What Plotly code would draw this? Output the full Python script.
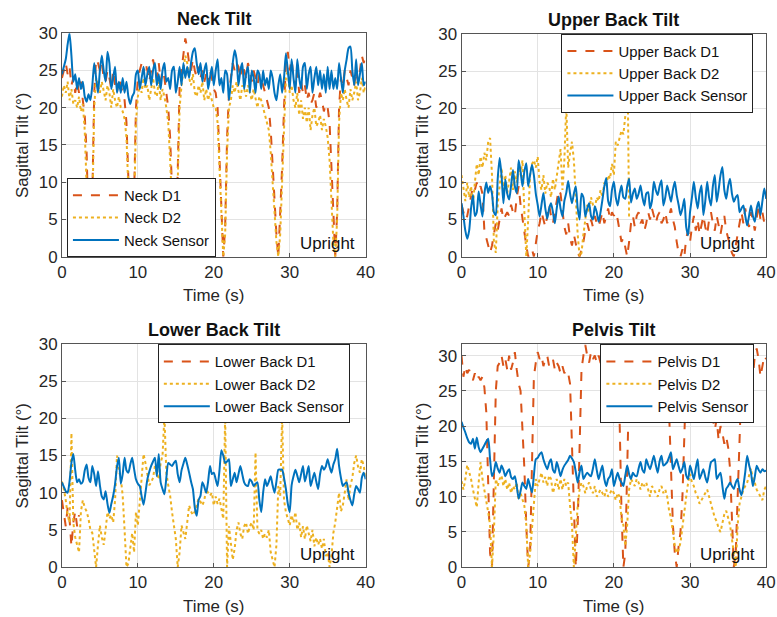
import plotly.graph_objects as go

DT = 0.25

# ---------------- Neck ----------------
NECK_D1 = [24, 25, 26, 24.5, 25.5, 23, 24, 22, 23.5,
           22, 23.5, 21, 19, 14, 4, 0, 8,
           22, 26.5, 26, 25, 26, 24, 23.5, 25,
           24, 22.5, 25, 23, 22, 24, 23, 22,
           21, 18, 10, 3, 0, 8, 20, 24,
           25, 26, 24.5, 26, 25, 23.5, 25, 26.5,
           25, 24, 26, 23.5, 25, 24, 22, 20,
           16, 8, 2, 0, 12, 23, 25, 27,
           29.3, 28, 26, 25, 26.5, 25, 24, 25.5,
           24, 25, 23.5, 24.5, 23, 25, 24, 22.5,
           22, 20, 14, 6, 0, 4, 16, 22,
           24, 26, 25, 26, 25.5, 24, 26, 25,
           24, 26, 25, 23.5, 25, 24, 23, 24.5,
           24, 23, 22, 21, 20, 17, 12, 7,
           3, 0, 5, 12, 20, 26, 27.5, 25,
           26.5, 24, 23, 25, 22, 23.5, 22, 23,
           21, 22, 20.5, 21, 22, 20, 21, 22,
           21, 19.5, 20.5, 20, 18, 12, 5, 0,
           6, 20, 24, 23, 25, 24, 23, 25,
           24, 23, 25, 23.5, 25, 27, 26, 27]
NECK_D2 = [21.5, 23, 22, 23.5, 21, 22.5, 20.5, 21, 20,
           21.5, 19.5, 20.5, 17, 10, 2, 0, 6,
           20, 24, 23, 22, 23.5, 22, 21, 23,
           22, 20, 22.5, 21, 20, 21.5, 20, 19.5,
           18.5, 16, 8, 2, 0, 6, 18, 21.5,
           23, 22, 24, 22.5, 23, 21, 22.5, 24,
           22, 21.5, 23.5, 21, 22.5, 21.5, 20, 18,
           13, 6, 1, 0, 10, 20, 23, 25,
           27, 26, 24, 23, 24.5, 22, 21.5, 23,
           22, 23.5, 21, 22.5, 21, 22, 21, 20,
           20, 18, 12, 5, 0, 3, 14, 20,
           21, 23, 22, 23.5, 22, 21, 23, 22.5,
           21.5, 23, 22, 21, 22.5, 21, 20, 21.5,
           21, 20, 19, 18, 17, 14, 10, 5,
           2, 0, 3, 10, 18, 24, 25, 22,
           23, 21, 20, 22, 19, 21, 18.5, 20,
           18, 20, 17, 19, 20, 17.5, 18, 19,
           17, 18.5, 17.5, 16, 13, 8, 2, 0,
           5, 18, 22, 21, 22.5, 21, 20, 22.5,
           21, 22, 23.5, 21, 22, 24, 22, 23]
NECK_SENSOR = [24.5, 25.5, 26.5, 28.5, 30, 27, 23.5, 24.5, 22.5,
               24, 22.5, 23.5, 21.5, 20.8, 21.8, 21, 23,
               26, 24, 22, 25, 27, 25, 23.5, 27.5,
               26, 22.5, 24, 25.5, 22, 23.5, 22, 24,
               22, 23.5, 21.5, 20.5, 21.5, 22, 24.5, 25,
               22.5, 24, 25.5, 23, 24.5, 25.5, 23, 25,
               26, 23, 24.5, 22.5, 25, 26, 23.5, 24,
               22.5, 25, 25.5, 22, 23.5, 25.5, 23, 26,
               24, 25.5, 24, 26, 27.5, 28, 26, 24.5,
               26, 23.5, 25, 26, 22.5, 24, 25.5, 23,
               25, 26.5, 23, 24, 22, 25, 24.5, 21,
               23.5, 26, 27.7, 26.5, 23, 25, 26, 22.5,
               24.5, 25.5, 22, 25, 24, 22, 25, 24.5,
               22.5, 25, 23, 24, 22.5, 25, 24, 22,
               21, 23, 24.5, 22, 24, 27.3, 25, 22.5,
               26.5, 24, 22, 26.5, 24, 22.5, 25.5, 26,
               22.5, 24.5, 25.5, 22, 24, 25.5, 23, 25,
               22.5, 24.5, 22, 25.5, 22.5, 25, 22.5, 24,
               22.5, 26, 24, 22, 25, 26.5, 28, 28.2,
               25, 23, 26.5, 23, 24.5, 26, 23, 23.5]

# ---------------- Upper back ----------------
UPPER_D1 = [7, 6, 5, 5.5, 7, 8.5, 9.5, 9, 10,
            9, 9.5, 8.5, 3.5, 2.5, 1.5, 0.5, 1.5,
            3, 4.5, 3.5, 5, 6.5, 5, 5.5, 6,
            5.5, 7, 6, 5.5, 8, 9.5, 7, 5,
            3, 1.5, 0, 0.5, 1, 0, 2, 3.5,
            4.5, 6, 5, 4, 5.5, 7, 5.5, 4.5,
            6, 7.5, 9, 8.5, 6, 4, 3, 4.5,
            2.5, 1.5, 3, 1.5, 0.5, 0, 1, 2,
            3.5, 4.5, 3.5, 5, 4, 5.5, 4.5, 4,
            5, 6, 4.5, 5.5, 6.5, 5, 6, 5.5,
            6, 5, 3.5, 2, 2.5, 1, 0, 2,
            4.5, 5.5, 4, 5.5, 6, 4.5, 5, 3.5,
            4.5, 6, 5, 6.5, 5.5, 4.5, 5.5, 6,
            4.5, 5, 6, 4.5, 5.5, 6.5, 5, 4,
            2, 0.5, 0, 1, 0, 2.5, 3.5, 2,
            4, 5.5, 3.5, 5, 3, 4.5, 5.5, 4,
            3, 5, 6, 4.5, 3.5, 5.5, 4, 3,
            4.5, 5.5, 3.5, 2.5, 1.5, 0.5, 0, 1.5,
            3, 5, 6, 4.5, 6.5, 5, 4, 6,
            5, 3.5, 5.5, 7, 5, 6, 4.5, 4]
UPPER_D2 = [11, 9, 7.5, 10, 8, 9.5, 7, 10, 12.5,
            11, 13.5, 12, 14, 13, 15.5, 16, 11,
            2, 0.5, 7, 10, 12, 9, 11, 8.5,
            10, 12, 9, 11.5, 10, 12.5, 11, 13,
            6, 0, 5, 11, 12.5, 13, 12, 13.5,
            10, 9, 11, 8.5, 10, 9.5, 8, 10.5,
            9, 11, 12.5, 14.5, 9, 13, 20.5, 12,
            14, 15.5, 13, 8, 3, 0, 0.5, 3,
            5, 7, 6, 8, 7, 6.5, 8, 7.5,
            9, 8, 10, 9.5, 11, 10.5, 12.5, 11,
            15.5, 15, 16, 17, 16.5, 19, 30, 5]
UPPER_SENSOR = [7.2, 5.5, 3.5, 2.4, 3.5, 6.5, 8.3, 5.5, 6,
                8.8, 7, 5.4, 8.5, 10, 8.6, 9.5, 8.5,
                6, 5.6, 10.5, 13.3, 11, 7.2, 10.4, 8.5,
                7.7, 9.5, 11.7, 9.5, 8.6, 13, 11.5, 9.5,
                11.5, 12.6, 9.5, 11, 12.4, 11, 8.5, 7,
                5.4, 7, 8.6, 6.5, 5.1, 6.5, 7.2, 6,
                4.5, 6.5, 8.1, 6.5, 5.4, 7.5, 8.6, 10.2,
                8.5, 7.2, 8.5, 9.5, 6.5, 5, 8.5, 8,
                5.4, 6.5, 7.2, 5.5, 5, 6.8, 6, 4.7,
                6, 7.7, 9.5, 10.6, 7.5, 6.8, 9, 10.1,
                8, 6.9, 8.5, 9.6, 8, 7.8, 9.5, 10.5,
                7.3, 8.5, 9.2, 7.8, 8.5, 9.6, 8, 6.9,
                8.5, 8.7, 6.5, 7.5, 10.1, 9, 8.3, 9.5,
                10.3, 6.9, 8, 9.6, 8.5, 7.4, 9, 10.1,
                8.3, 7, 5.6, 6.5, 7.8, 4, 2.9, 6,
                8, 10.1, 8, 6.5, 8.5, 9.6, 5.6, 7.5,
                10.1, 8, 6.9, 9.5, 11, 7.4, 9, 11,
                12.1, 9, 7.8, 9.5, 10.5, 8.5, 7.4, 8,
                8.3, 6, 6.5, 6.9, 5.5, 4.2, 5.5, 6.9,
                5.5, 4.7, 6.5, 7.4, 5.6, 7.5, 9.2, 7.8]

# ---------------- Lower back ----------------
LOWER_D1 = [9, 7, 5.5, 8, 6.5, 2.8, 6, 7.5, 5.5, 7]
LOWER_D2 = [11.5, 10.5, 9, 7, 6, 18, 6, 4, 3,
            2, 7.5, 9, 8, 7.5, 6.5, 5, 4.6,
            2, 0, 3, 5.6, 4, 3, 5, 7.4,
            6.5, 7, 6, 9, 15, 13, 12, 9.6,
            5, 0, 0.5, 3, 4.6, 2, 7.4, 5.6,
            9, 13, 15.2, 14, 12.7, 11, 11.4, 12,
            13.6, 12.5, 11.8, 14, 15, 20.4, 12.7, 11,
            9.6, 7.4, 5.5, 3.8, 0, 2, 5.6, 4.5,
            3.8, 6, 8.3, 7.5, 7, 7.5, 8.3, 9.2,
            8.8, 8.3, 9, 10.5, 10, 9.6, 10, 8.3,
            9.5, 8.5, 9.2, 8, 6.5, 20.4, 0, 5.5,
            3, 1, 2.5, 5, 6, 4.5, 3.8, 5.5,
            6, 4.5, 5.5, 6, 5, 15.4, 5, 4.5,
            5, 3.8, 4.5, 4, 5, 2, 1, 0,
            3, 10.9, 9.6, 20.4, 9, 7.4, 6.5, 5.6,
            7, 6, 7.4, 5, 6, 4, 5.5, 3.8,
            5.6, 4.5, 3.5, 5, 2.8, 4, 3, 3.8,
            2.5, 3.8, 1.5, 2, 0, 1.5, 4.6, 6,
            8, 10, 7.5, 8.3, 10, 11.8, 9, 11,
            12, 14, 15, 13.5, 12.7, 14.5, 13.6, 12]
LOWER_SENSOR = [11.4, 10.8, 10.2, 10, 11.5, 14, 15.2, 13, 11.4,
                11.8, 11.2, 11.5, 13, 13.8, 12, 11.4, 13.6,
                12.5, 10.9, 12.9, 11, 9.5, 9.1, 10.2, 8.5,
                7.3, 8.5, 9.6, 11.2, 13.5, 14.7, 11.2, 12.5,
                14.7, 13, 12.7, 13.8, 14.7, 13.2, 11.8, 11.2,
                10.9, 9.5, 8.4, 10, 11.8, 12.8, 13.6, 14.2,
                14.7, 12.2, 15.2, 11.4, 10.5, 9.8, 12, 14,
                13.8, 13.6, 14, 14.3, 12.5, 11.4, 13, 13.9,
                14.7, 13.8, 12.7, 11.5, 10.5, 8, 6.9, 9,
                9.6, 11.4, 10.8, 10, 11.5, 13.6, 12.5, 12.7,
                11.8, 10.9, 13, 15.7, 15, 14, 14.2, 14.5,
                10.9, 11.8, 12.7, 11.4, 12.5, 13.6, 12.5, 11.4,
                11, 10.9, 11.8, 11.5, 10.9, 11.2, 11.4, 9,
                7.4, 10, 11.8, 10.9, 11.5, 12.2, 11, 10,
                11.5, 13.1, 13.1, 13.1, 12, 10.5, 8.5, 7.4,
                11, 12.2, 13.1, 12.3, 11.4, 12.5, 13.6, 11.5,
                12.5, 13.6, 10.9, 11.8, 12.7, 11.5, 10.5, 12.5,
                13.6, 13.1, 13.5, 14.5, 13.5, 12.7, 13.8, 14.5,
                15.9, 13.6, 12, 10.9, 11.2, 11.4, 10, 9,
                8.3, 9.8, 10.9, 10.5, 10, 12, 12.7, 11.8]

# ---------------- Pelvis ----------------
PELVIS_D1 = [30, 27, 28.5, 27.5, 28, 27, 26.5, 27.5, 26.5,
             27, 26.5, 27, 25.5, 22, 12, 2, 0,
             14, 25, 28.5, 29, 30, 28.5, 29.5, 28,
             30, 28, 29, 30.5, 28, 26, 25, 20,
             14, 6, 0, 2, 14, 27, 29, 30.5,
             29.5, 30, 28.5, 29.5, 30, 28.5, 29, 29.5,
             28, 29, 28.5, 27.5, 28.5, 27.5, 28, 27.5,
             26, 18, 8, 0, 6, 18, 28, 30,
             31.5, 30, 29, 30.5, 29.5, 30, 29, 30,
             29, 28.5, 29.5, 28.5, 29, 30, 29, 28.5,
             28, 26, 21, 8, 0, 2, 16, 26,
             29, 30, 28.5, 29.5, 30, 29, 28.5, 30,
             29, 28.5, 29.5, 30, 28.5, 29, 30, 29,
             28.5, 29.5, 28, 26, 22, 14, 6, 2,
             0, 3, 5, 10, 20, 27, 31, 29,
             28, 29.5, 28, 27, 28.5, 26, 27, 25,
             22, 23.5, 20.5, 21, 19.5, 21, 18, 20,
             19, 17.5, 18.5, 17, 14, 6, 0, 2,
             10, 20, 26, 28, 29, 30, 28.5, 29,
             27, 30, 31, 29.5, 27, 28.5, 30, 29.5]
PELVIS_D2 = [12.2, 11, 12.5, 14.5, 13.5, 12.5, 11, 9.5, 8.5,
             12, 14.9, 12.5, 11, 9.7, 7.8, 6, 0,
             5, 12.5, 11.5, 12.5, 13, 11.5, 12.5, 11,
             12, 10.5, 11.5, 11, 12, 9.5, 10.5, 9.5,
             8.7, 6, 0, 2, 6, 9.5, 12.5, 11.5,
             12.5, 13.4, 12, 12.8, 11.5, 13, 12.5, 10.5,
             11.5, 12.5, 11, 12.5, 11, 12.5, 11.5, 12,
             8.7, 6, 0, 5, 8.7, 11, 12, 11.5,
             10.5, 11.5, 12, 11, 10.5, 11.5, 10, 10.5,
             11, 10.5, 10, 11, 10, 10.5, 11, 10.5,
             9.5, 10.5, 10, 7, 6, 3, 6, 11,
             12.5, 12, 11.5, 12.5, 12, 11, 12, 11.5,
             12, 11, 10, 11.5, 11, 10.5, 10, 11,
             11.5, 10.5, 11, 10, 8, 7, 5, 3,
             2, 2.5, 3.5, 6, 8, 10, 12, 13.2,
             12, 11.5, 10.5, 10, 9, 9.5, 10, 10.5,
             11, 10, 9, 8, 7, 6.5, 5.5, 5,
             6.5, 7.5, 8, 7, 6, 4, 2, 0,
             6, 9, 10, 11, 11.5, 12, 13, 14,
             12.5, 12, 11, 10.5, 10, 9.5, 11, 11.5]
PELVIS_SENSOR = [20.6, 19.8, 19.1, 18.3, 17.7, 17.5, 18.2, 16.8, 18.4,
                 17, 16.3, 16.8, 17.3, 17.8, 18.2, 15.3, 12.9,
                 13.5, 14.9, 14, 13.4, 14.4, 13.8, 12.9, 13.5,
                 13.9, 12.8, 12.5, 12.9, 11.5, 9.7, 10.8, 12,
                 11.5, 11.1, 12.5, 11.5, 10.6, 13, 15.3, 15.5,
                 16, 16.3, 15.3, 14.5, 13.9, 14.8, 15.3, 13.8,
                 13.4, 14.9, 14, 12.9, 13.8, 14.4, 14.8, 15.2,
                 15.8, 15.4, 14.9, 13.5, 12, 13.5, 14.4, 12.5,
                 13, 13.4, 13.1, 12.9, 14, 15.3, 13.8, 12.5,
                 13.5, 14.4, 12.5, 11.5, 12.5, 12.9, 13.9, 11.5,
                 12.5, 13.4, 12.5, 12, 11.5, 13, 14.4, 13.2,
                 12.5, 13.4, 13, 12.9, 14, 14.9, 13.8, 13.4,
                 15.3, 14.5, 13.9, 14.8, 15.8, 14.5, 13.4, 15,
                 15.8, 14.4, 14.6, 14.9, 15.6, 16.3, 13.9, 14.6,
                 15.3, 14.3, 13.4, 14, 14.9, 13, 12.5, 14.4,
                 13.5, 12.5, 14, 15.3, 12.5, 13.2, 13.9, 12.8,
                 12, 13.5, 14.9, 15.1, 15.3, 12.5, 13, 13.4,
                 11.5, 9.7, 11.1, 11.5, 12, 11.5, 11.1, 12,
                 12.5, 11, 10.2, 11.5, 13.5, 15.8, 14.5, 13.4,
                 11.5, 12.8, 14.4, 13.8, 13.4, 13.9, 13.6, 13.7]

TITLES = ["Neck Tilt", "Upper Back Tilt", "Lower Back Tilt", "Pelvis Tilt"]
PREFIXES = ["Neck", "Upper Back", "Lower Back", "Pelvis"]
SERIES = [(NECK_D1, NECK_D2, NECK_SENSOR),
          (UPPER_D1, UPPER_D2, UPPER_SENSOR),
          (LOWER_D1, LOWER_D2, LOWER_SENSOR),
          (PELVIS_D1, PELVIS_D2, PELVIS_SENSOR)]
Y_MAX = [30, 30, 30, 31.67]
X_TICKS = [0, 10, 20, 30, 40]
Y_TICKS = [0, 5, 10, 15, 20, 25, 30]

# figure size and calibration of where a figure pixel lands in the photograph
W, H = 777, 628
CAL_X0, CAL_SX = 4.0, 0.983
CAL_Y0, CAL_SY = 8.8, 0.968
FS = 1.025  # font compensation for the photo scale

BLUE, ORANGE, YELLOW = "#0072BD", "#D95319", "#EDB120"
FONT = "Liberation Sans, Arial, Helvetica, sans-serif"
TXT = "#262626"

# panel geometry in reference-picture pixels: (left, right, top, bottom)
BOXES = [(61, 365, 33, 256), (461, 766, 34, 256),
         (61, 365, 343, 566), (461, 766, 343, 566)]
# legend box: left edge and vertical centre in reference-picture pixels
LEGEND_POS = [(66, 217), (561, 73), (157, 383), (600, 383)]


def px(x):
    return ((x - CAL_X0) / CAL_SX) / W


def py(y):
    return 1 - ((y - CAL_Y0) / CAL_SY) / H


fig = go.Figure()
annotations = []
for i in range(4):
    sfx = "" if i == 0 else str(i + 1)
    d1, d2, s = SERIES[i]
    lg = "legend" + sfx
    for vals, name, color, dash, shape in [
        (d1, f"{PREFIXES[i]} D1", ORANGE, "dash", "linear"),
        (d2, f"{PREFIXES[i]} D2", YELLOW, "dot", "linear"),
        (s, f"{PREFIXES[i]} Sensor", BLUE, "solid", "spline"),
    ]:
        fig.add_trace(go.Scatter(
            x=[k * DT for k in range(len(vals))], y=vals, mode="lines",
            name=name, xaxis="x" + sfx, yaxis="y" + sfx, legend=lg,
            line=dict(color=color, width=2, dash=dash, shape=shape,
                      smoothing=0.6 if shape == "spline" else None),
        ))
    l, r, t, b = BOXES[i]
    axis_common = dict(showline=True, linecolor="#555555", linewidth=1, mirror=True,
                       showgrid=True, gridcolor="#e3e3e3", gridwidth=1, zeroline=False,
                       ticks="inside", ticklen=4, tickcolor="#555555",
                       tickfont=dict(family=FONT, size=16.5 * FS, color=TXT))
    fig.update_layout({
        "xaxis" + sfx: dict(domain=[px(l), px(r)], anchor="y" + sfx, range=[0, 40],
                            tickvals=X_TICKS, **axis_common),
        "yaxis" + sfx: dict(domain=[py(b), py(t)], anchor="x" + sfx, range=[0, Y_MAX[i]],
                            tickvals=Y_TICKS, **axis_common),
        lg: dict(x=px(LEGEND_POS[i][0]), y=py(LEGEND_POS[i][1]), xanchor="left", yanchor="middle",
                 bgcolor="white", bordercolor="#222222", borderwidth=1,
                 font=dict(family=FONT, size=14.5 * FS, color="#111111"),
                 tracegroupgap=0, itemwidth=46),
    })
    cx = (l + r) / 2
    annotations += [
        dict(text=f"<b>{TITLES[i]}</b>", x=px(cx), y=py(t - 14), xref="paper", yref="paper",
             showarrow=False, xanchor="center", yanchor="middle",
             font=dict(family=FONT, size=17.5 * FS, color="#111111")),
        dict(text="Time (s)", x=px(cx), y=py(b + 39), xref="paper", yref="paper",
             showarrow=False, xanchor="center", yanchor="middle",
             font=dict(family=FONT, size=16.5 * FS, color=TXT)),
        dict(text="Sagittal Tilt (°)", x=px(l - 39), y=py((t + b) / 2), xref="paper", yref="paper",
             showarrow=False, xanchor="center", yanchor="middle", textangle=-90,
             font=dict(family=FONT, size=16.5 * FS, color=TXT)),
        dict(text="Upright", x=px(r - 9), y=py(b - 13), xref="paper", yref="paper",
             showarrow=False, xanchor="right", yanchor="middle",
             font=dict(family=FONT, size=16.5 * FS, color="#111111")),
    ]

fig.update_layout(width=W, height=H, margin=dict(l=0, r=0, t=0, b=0),
                  paper_bgcolor="white", plot_bgcolor="white",
                  annotations=annotations, showlegend=True)
fig.write_html("out.html")
